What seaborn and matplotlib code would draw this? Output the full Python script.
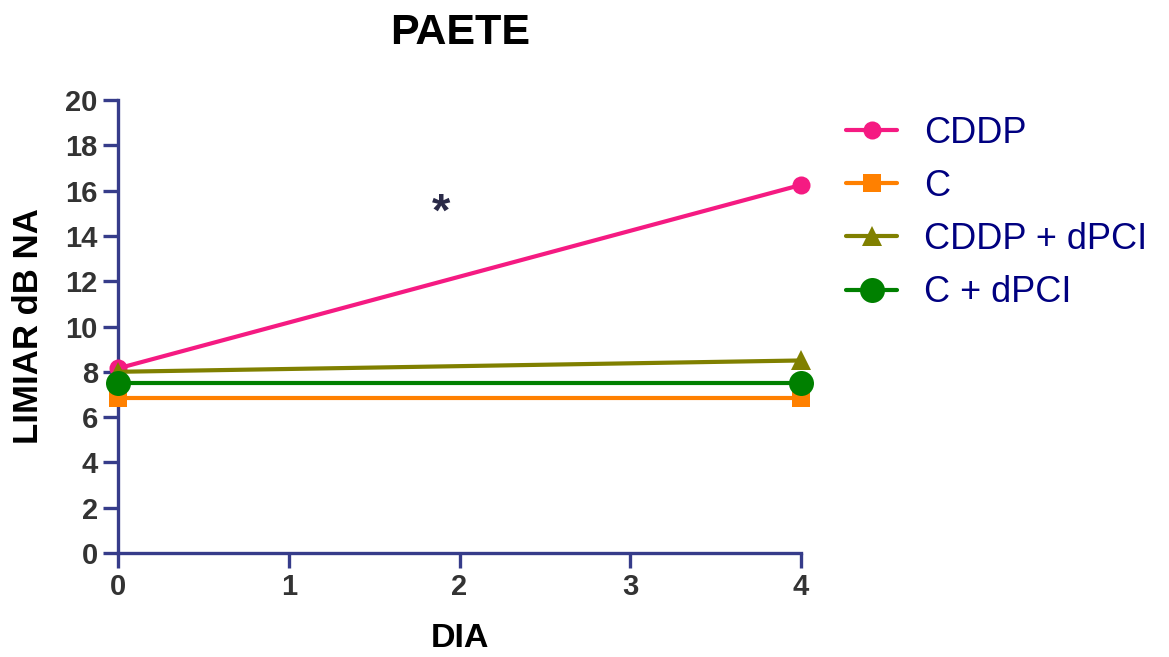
import matplotlib
matplotlib.use("Agg")
import matplotlib.pyplot as plt
import seaborn as sns
import pandas as pd

days = [0, 4]
cddp = [8.15, 16.25]
c_ctrl = [6.85, 6.85]
cddp_dpci = [8.0, 8.5]
c_dpci = [7.5, 7.5]
series_names = ["CDDP", "C", "CDDP + dPCI", "C + dPCI"]
series_values = [cddp, c_ctrl, cddp_dpci, c_dpci]
colors = ["#F51A82", "#FF8000", "#808000", "#008000"]
markers = ["o", "s", "^", "o"]
msizes = [13, 13.5, 14, 18]
yticks = list(range(0, 21, 2))
xticks = [0, 1, 2, 3, 4]
star_x, star_y = 1.89, 14.45

sns.set_theme(style="white")
fam = ["Liberation Sans", "DejaVu Sans"]
plt.rcParams["font.family"] = fam

axis_col = "#363c8a"
fig = plt.figure(figsize=(11.69, 6.57), dpi=100)
ax = fig.add_axes([118/1169, 1-553/657, (801-118)/1169, (553-100)/657])

for name, vals, col, mk, ms in zip(series_names, series_values, colors, markers, msizes):
    df = pd.DataFrame({"DIA": days, "val": vals})
    sns.lineplot(data=df, x="DIA", y="val", ax=ax, color=col, marker=mk,
                 markersize=ms, markeredgewidth=0, linewidth=3, label=name,
                 clip_on=False, zorder=3)

ax.set_xlim(0, 4)
ax.set_ylim(0, 20)
ax.set_xticks(xticks)
ax.set_yticks(yticks)
for s in ["top", "right"]:
    ax.spines[s].set_visible(False)
for s in ["left", "bottom"]:
    ax.spines[s].set_color(axis_col)
    ax.spines[s].set_linewidth(2.4)
ax.tick_params(axis="both", direction="out", length=10.5, width=2.4, color=axis_col,
               pad=4, labelcolor="#333333", left=True, bottom=True)
for lab in ax.get_xticklabels() + ax.get_yticklabels():
    lab.set_fontweight("bold")
    lab.set_fontsize(21)

ax.set_xlabel("DIA", fontsize=24.5, fontweight="bold", color="black", labelpad=15.5)
ax.set_ylabel("LIMIAR dB NA", fontsize=25, fontweight="bold", color="black", labelpad=15)

ax.text(star_x, star_y, "*", fontsize=34, fontweight="bold", color="#2a2a48",
        ha="center", va="baseline")

fig.text(460/1169, 1-44/657, "PAETE", fontsize=31, fontweight="bold",
         ha="center", va="baseline", color="black")

handles, labels = ax.get_legend_handles_labels()
if ax.get_legend():
    ax.get_legend().remove()
leg = fig.legend(handles, labels, loc="upper left", bbox_to_anchor=(846/1169, 1-116/657),
                 frameon=False, fontsize=26, handlelength=1.42, handletextpad=0.75,
                 labelspacing=0.5, borderpad=0, borderaxespad=0)
for t in leg.get_texts():
    t.set_color("#000080")

fig.savefig("out.png", dpi=100)
